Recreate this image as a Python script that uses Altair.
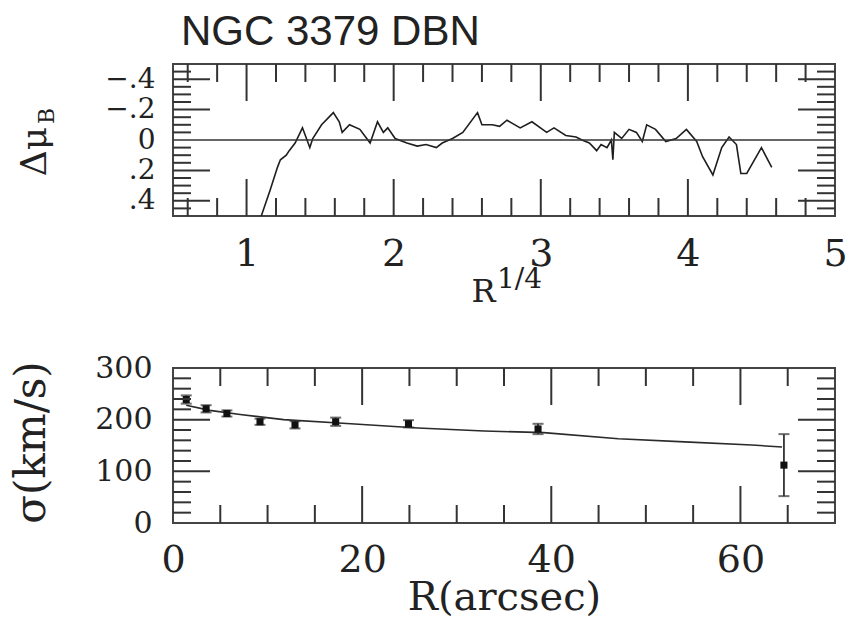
import altair as alt
import pandas as pd

TITLE = "NGC 3379 DBN"

# ---------------- top panel: surface-brightness residuals vs R^(1/4)
R_QUARTER = [1.10, 1.16, 1.21, 1.23, 1.27, 1.29, 1.33, 1.38, 1.43, 1.45, 1.51, 1.59,
             1.63, 1.65, 1.70, 1.77, 1.84, 1.89, 1.93, 1.96, 2.01, 2.09, 2.16, 2.22,
             2.29, 2.33, 2.40, 2.47, 2.57, 2.60, 2.67, 2.72, 2.77, 2.86, 2.94, 3.04,
             3.09, 3.17, 3.24, 3.28, 3.33, 3.38, 3.41, 3.45, 3.48, 3.49, 3.50, 3.55,
             3.60, 3.65, 3.69, 3.72, 3.78, 3.85, 3.92, 3.99, 4.06, 4.10, 4.17, 4.23,
             4.28, 4.33, 4.36, 4.40, 4.50, 4.57]
DELTA_MU = [0.50, 0.33, 0.18, 0.13, 0.10, 0.07, 0.02, -0.08, 0.05, -0.01, -0.10, -0.18,
            -0.12, -0.05, -0.10, -0.07, 0.02, -0.12, -0.05, -0.08, -0.01, 0.02, 0.04, 0.03,
            0.05, 0.02, -0.01, -0.05, -0.18, -0.10, -0.10, -0.09, -0.13, -0.08, -0.12, -0.05,
            -0.08, -0.03, -0.02, 0.00, 0.02, 0.07, 0.03, 0.05, 0.00, 0.13, -0.05, -0.01,
            -0.07, -0.05, 0.01, -0.10, -0.07, 0.01, -0.01, -0.07, 0.01, 0.11, 0.23, 0.05,
            -0.02, 0.03, 0.22, 0.22, 0.05, 0.18]

# ---------------- bottom panel: velocity dispersion profile
R_ARCSEC = [1.4, 3.5, 5.7, 9.2, 12.9, 17.2, 24.9, 38.6, 64.6]
SIGMA = [239, 221, 212, 196, 190, 196, 192, 182, 112]
SIGMA_ERR = [8, 7, 6, 6, 7, 8, 7, 10, 60]

MODEL_R = [1.4, 3.9, 7.1, 11.7, 18.8, 25.9, 32.9, 39.2, 47.1, 54.1, 61.2, 64.4]
MODEL_SIGMA = [228, 218, 210, 200, 192, 184, 178, 175, 163, 157, 151, 147]

# ---------------- tick values
TOP_X_LABELS = [1, 2, 3, 4, 5]
TOP_X_MAJOR = [1, 2, 3, 4]
TOP_X_MINOR = [0.6, 0.8, 1.2, 1.4, 1.6, 1.8, 2.2, 2.4, 2.6, 2.8, 3.2, 3.4, 3.6, 3.8,
               4.2, 4.4, 4.6, 4.8]
TOP_Y_LABELS = [-0.4, -0.2, 0, 0.2, 0.4]
TOP_Y_MAJOR = [-0.4, -0.2, 0.2, 0.4]
TOP_Y_MINOR = [-0.45, -0.35, -0.3, -0.25, -0.15, -0.1, -0.05, 0.05, 0.1, 0.15, 0.25,
               0.3, 0.35, 0.45]
BOT_X_LABELS = [0, 20, 40, 60]
BOT_X_MAJOR = [20, 40, 60]
BOT_X_MINOR = [5, 10, 15, 25, 30, 35, 45, 50, 55, 65]
BOT_Y_LABELS = [0, 100, 200, 300]
BOT_Y_MAJOR = [100, 200]
BOT_Y_MINOR = [20, 40, 60, 80, 120, 140, 160, 180, 220, 240, 260, 280]

SERIF = "DejaVu Serif"
INK = "#1e1e1e"
W = 662
TOP_H = 152
BOT_H = 155
MINOR_LEN = 18
MAJOR_LEN = 37

# ---------------- scales and axes (shared by every layer of a panel)
xs_top = alt.Scale(domain=[0.5, 5], nice=False, zero=False)
ys_top = alt.Scale(domain=[-0.5, 0.5], reverse=True, nice=False, zero=False)
xs_bot = alt.Scale(domain=[0, 70], nice=False, zero=False)
ys_bot = alt.Scale(domain=[0, 300], nice=False, zero=False)

ax_top_x = alt.Axis(values=TOP_X_LABELS, format="d", labelFontSize=38,
                    labelPadding=19, labelFlush=False, labelOverlap=False,
                    title="R", titleFontSize=32, titleX=310, titleY=85,
                    titleBaseline="alphabetic", titleAlign="center")
ax_top_y = alt.Axis(values=TOP_Y_LABELS, labelFontSize=28, labelPadding=18,
                    labelFlush=False, labelOverlap=False,
                    labelExpr="datum.value == 0 ? '0' : replace(format(datum.value, '.1f'), '0.', '.')",
                    title="Δμ", titleFontSize=36, titleAngle=270, titleX=-128,
                    titleY=87, titleAlign="center", titleBaseline="alphabetic")
ax_bot_x = alt.Axis(values=BOT_X_LABELS, labelFontSize=38, labelPadding=18,
                    labelFlush=False, labelOverlap=False,
                    title="R(arcsec)", titleFontSize=40, titleY=86,
                    titleBaseline="alphabetic")
ax_bot_y = alt.Axis(values=BOT_Y_LABELS, labelFontSize=30, labelPadding=21,
                    labelFlush=False, labelOverlap=False,
                    title="σ(km/s)", titleFontSize=42, titleAngle=270,
                    titleX=-129, titleY=74, titleAlign="center",
                    titleBaseline="alphabetic")


def tick_layers(xvals_minor, xvals_major, yvals_minor, yvals_major, xs, ys, axx, axy, h):
    layers = []
    for vals, ln in ((xvals_minor, MINOR_LEN), (xvals_major, MAJOR_LEN)):
        df = pd.DataFrame({"v": vals})
        base = alt.Chart(df).mark_rule(color="#333", strokeWidth=2)
        layers.append(base.encode(x=alt.X("v:Q", scale=xs, axis=axx),
                                  y=alt.value(0), y2=alt.value(ln)))
        layers.append(base.encode(x=alt.X("v:Q", scale=xs, axis=axx),
                                  y=alt.value(h - ln), y2=alt.value(h)))
    for vals, ln in ((yvals_minor, MINOR_LEN), (yvals_major, MAJOR_LEN)):
        df = pd.DataFrame({"v": vals})
        base = alt.Chart(df).mark_rule(color="#333", strokeWidth=2)
        layers.append(base.encode(y=alt.Y("v:Q", scale=ys, axis=axy),
                                  x=alt.value(0), x2=alt.value(ln)))
        layers.append(base.encode(y=alt.Y("v:Q", scale=ys, axis=axy),
                                  x=alt.value(W - ln), x2=alt.value(W)))
    return layers


# ---------------- top chart
top_df = pd.DataFrame({"i": list(range(len(R_QUARTER))), "r": R_QUARTER, "dmu": DELTA_MU})

top_line = alt.Chart(top_df).mark_line(color=INK, strokeWidth=1.6, clip=True).encode(
    x=alt.X("r:Q", scale=xs_top, axis=ax_top_x),
    y=alt.Y("dmu:Q", scale=ys_top, axis=ax_top_y),
    order="i:Q",
)

zero_line = alt.Chart(pd.DataFrame({"v": [0]})).mark_rule(color="#333", strokeWidth=1.6).encode(
    y=alt.Y("v:Q", scale=ys_top, axis=ax_top_y))

sub_b = alt.Chart(pd.DataFrame({"t": ["B"]})).mark_text(
    font=SERIF, fontSize=22, angle=270, align="center", baseline="alphabetic", color=INK
).encode(text="t:N", x=alt.value(-119), y=alt.value(52))

sup_q = alt.Chart(pd.DataFrame({"t": ["1/4"]})).mark_text(
    font=SERIF, fontSize=28, align="left", baseline="alphabetic", color=INK
).encode(text="t:N", x=alt.value(324), y=alt.value(224))

top = alt.layer(
    top_line, zero_line, sub_b, sup_q,
    *tick_layers(TOP_X_MINOR, TOP_X_MAJOR, TOP_Y_MINOR, TOP_Y_MAJOR,
                 xs_top, ys_top, ax_top_x, ax_top_y, TOP_H),
).properties(
    width=W, height=TOP_H,
    title=alt.TitleParams(TITLE, anchor="start", frame="group", dx=8, dy=40, offset=16,
                          baseline="alphabetic", font="Liberation Sans", fontSize=42,
                          fontWeight="normal", color="#222"),
)

# ---------------- bottom chart
model_df = pd.DataFrame({"r": MODEL_R, "s": MODEL_SIGMA})
obs_df = pd.DataFrame({"r": R_ARCSEC, "s": SIGMA, "e": SIGMA_ERR})
obs_df["lo"] = obs_df["s"] - obs_df["e"]
obs_df["hi"] = obs_df["s"] + obs_df["e"]

model_line = alt.Chart(model_df).mark_line(color="#2a2a2a", strokeWidth=1.6).encode(
    x=alt.X("r:Q", scale=xs_bot, axis=ax_bot_x),
    y=alt.Y("s:Q", scale=ys_bot, axis=ax_bot_y),
)

err_rule = alt.Chart(obs_df).mark_rule(color="#333", strokeWidth=1.8).encode(
    x=alt.X("r:Q", scale=xs_bot, axis=ax_bot_x),
    y=alt.Y("lo:Q", scale=ys_bot, axis=ax_bot_y), y2="hi:Q")
cap_lo = alt.Chart(obs_df).mark_tick(color="#333", orient="horizontal", size=11, thickness=2).encode(
    x=alt.X("r:Q", scale=xs_bot, axis=ax_bot_x), y=alt.Y("lo:Q", scale=ys_bot, axis=ax_bot_y))
cap_hi = alt.Chart(obs_df).mark_tick(color="#333", orient="horizontal", size=11, thickness=2).encode(
    x=alt.X("r:Q", scale=xs_bot, axis=ax_bot_x), y=alt.Y("hi:Q", scale=ys_bot, axis=ax_bot_y))
pts = alt.Chart(obs_df).mark_point(shape="square", filled=True, color="#111", size=50, opacity=1).encode(
    x=alt.X("r:Q", scale=xs_bot, axis=ax_bot_x), y=alt.Y("s:Q", scale=ys_bot, axis=ax_bot_y))

bottom = alt.layer(
    model_line, err_rule, cap_lo, cap_hi, pts,
    *tick_layers(BOT_X_MINOR, BOT_X_MAJOR, BOT_Y_MINOR, BOT_Y_MAJOR,
                 xs_bot, ys_bot, ax_bot_x, ax_bot_y, BOT_H),
).properties(width=W, height=BOT_H)

chart = alt.vconcat(top, bottom, spacing=152, bounds="flush").configure_view(
    stroke="#444", strokeWidth=2
).configure_axis(
    domain=False, ticks=False, tickSize=0, grid=False, labelFont=SERIF, titleFont=SERIF,
    labelColor="#222", titleColor="#222", titleFontWeight="normal"
).properties(padding={"left": 0, "top": 2, "right": 0, "bottom": 0}, background="white")

chart.save("out.html", embed_options={"renderer": "svg", "actions": False})
